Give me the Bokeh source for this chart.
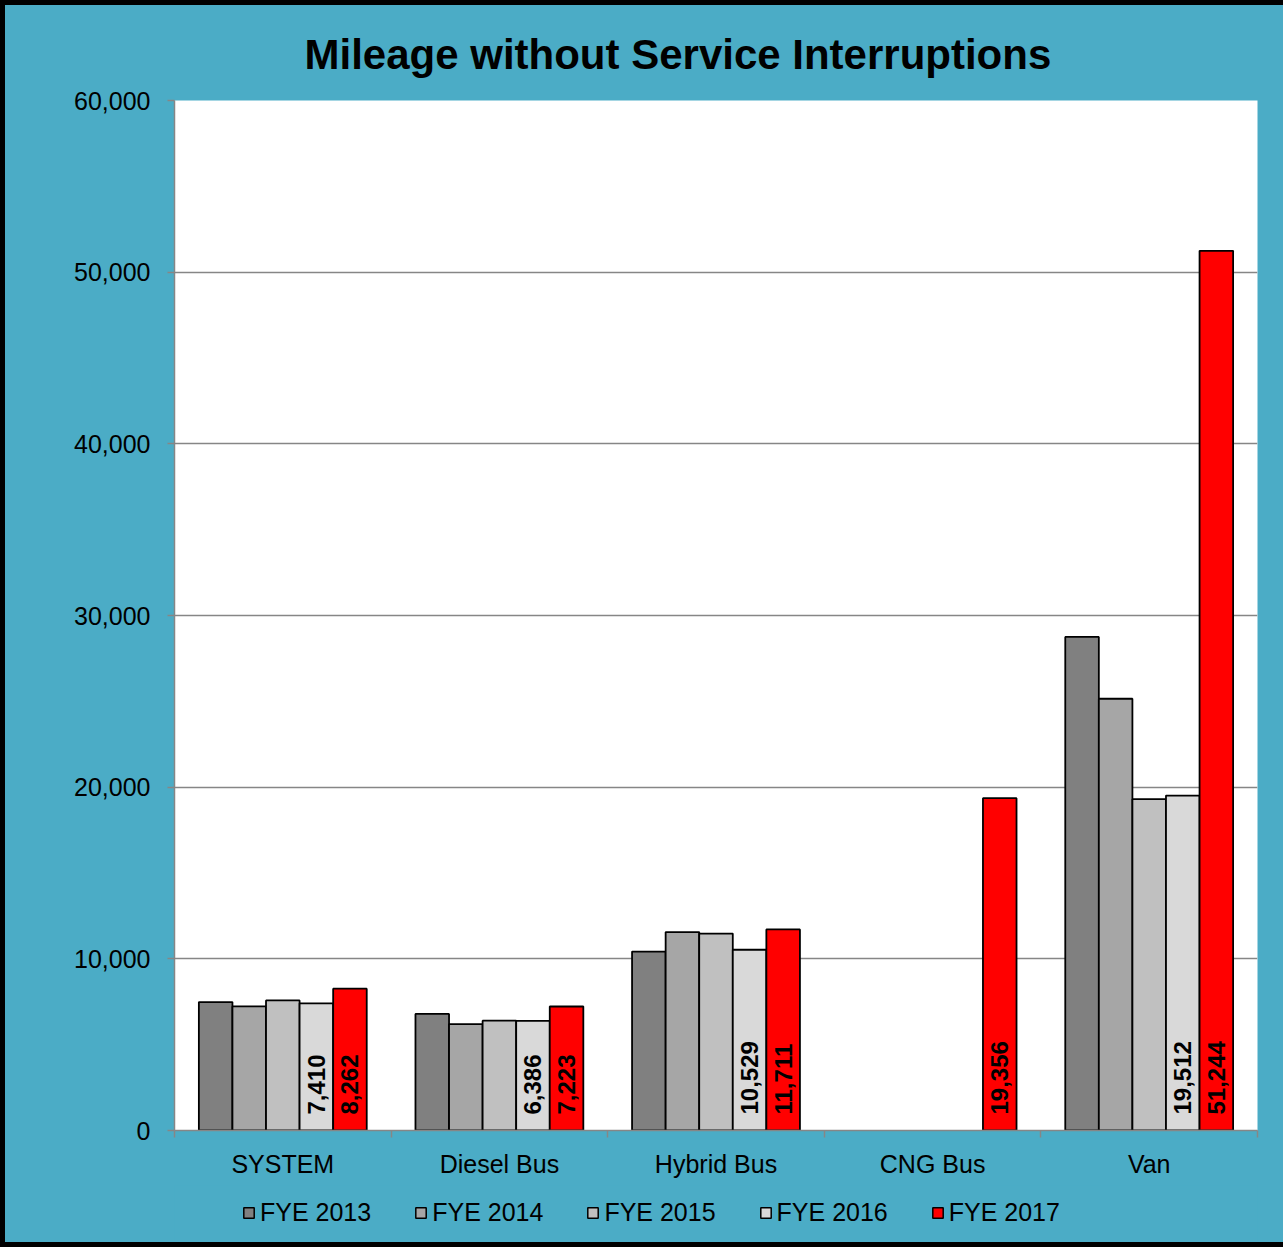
import math
from bokeh.plotting import figure
from bokeh.layouts import column
from bokeh.core.properties import value
from bokeh.models import (ColumnDataSource, FixedTicker, Legend, LegendItem, LabelSet,
                          NumeralTickFormatter, Range1d, CustomJSTickFormatter)
from bokeh.embed import file_html
from bokeh.resources import INLINE

nan = float("nan")

categories = ["SYSTEM", "Diesel Bus", "Hybrid Bus", "CNG Bus", "Van"]
series_names = ["FYE 2013", "FYE 2014", "FYE 2015", "FYE 2016", "FYE 2017"]
fye2013 = [7480, 6790, 10420, nan, 28750]
fye2014 = [7230, 6200, 11560, nan, 25150]
fye2015 = [7580, 6400, 11470, nan, 19300]
fye2016 = [7410, 6386, 10529, nan, 19512]
fye2017 = [8262, 7223, 11711, 19356, 51244]
labelled_series = ["FYE 2016", "FYE 2017"]
colors = ["#808080", "#A6A6A6", "#C0C0C0", "#D9D9D9", "#FF0000"]

series = [fye2013, fye2014, fye2015, fye2016, fye2017]
FONT = "Liberation Sans"
TEAL = "#4BACC6"
GRID = "#868686"
W = 1283
H1, H2 = 1185, 62
BORDER = "5px solid black"

p = figure(width=W, height=H1, output_backend="svg", toolbar_location=None,
           x_range=Range1d(0, len(categories)), y_range=Range1d(0, 60000),
           min_border_left=169, min_border_right=31, min_border_top=94, min_border_bottom=60,
           background_fill_color="white", border_fill_color=TEAL, outline_line_color=None)
p.styles = {"border-left": BORDER, "border-top": BORDER, "background-color": TEAL}

p.title.text = "Mileage without Service Interruptions"
p.title.align = "left"
p.title.offset = 130
p.title.text_font = FONT
p.title.text_font_size = "42px"
p.title.text_font_style = "bold"
p.title.text_color = "black"
p.title.standoff = 46

bw = 0.155
for j, (name, vals, color) in enumerate(zip(series_names, series, colors)):
    xs = [i + 0.5 + (j - 2) * bw for i in range(len(categories))]
    src = ColumnDataSource(dict(x=xs, top=vals))
    p.vbar(x="x", top="top", width=bw, source=src, fill_color=color,
           line_color="black", line_width=1.8)
    if name in labelled_series:
        lx, lt = [], []
        for x, v in zip(xs, vals):
            if not math.isnan(v):
                lx.append(x)
                lt.append(f"{int(v):,}")
        lsrc = ColumnDataSource(dict(x=lx, y=[0] * len(lx), text=lt))
        p.add_layout(LabelSet(x="x", y="y", text="text", source=lsrc, angle=math.pi / 2,
                              text_align="left", text_baseline="middle", y_offset=16,
                              text_font=value(FONT), text_font_size="24px",
                              text_font_style="bold", text_color="black"))

# y axis
yax = p.yaxis[0]
yax.ticker = FixedTicker(ticks=[0, 10000, 20000, 30000, 40000, 50000, 60000])
yax.formatter = NumeralTickFormatter(format="0,0")
yax.axis_line_color = GRID
yax.axis_line_width = 1.5
yax.major_tick_line_color = GRID
yax.major_tick_line_width = 1.5
yax.major_tick_out = 7
yax.major_tick_in = 0
yax.minor_tick_line_color = None
yax.major_label_text_font = FONT
yax.major_label_text_font_size = "25px"
yax.major_label_text_color = "black"
yax.major_label_standoff = 17

# x axis
xax = p.xaxis[0]
xax.ticker = FixedTicker(ticks=[i + 0.5 for i in range(len(categories))],
                         minor_ticks=list(range(len(categories) + 1)))
xax.formatter = CustomJSTickFormatter(args=dict(names=categories),
                                      code="return names[Math.floor(tick)] || '';")
xax.axis_line_color = GRID
xax.axis_line_width = 1.5
xax.major_tick_line_color = None
xax.minor_tick_line_color = GRID
xax.minor_tick_line_width = 1.5
xax.minor_tick_out = 7
xax.minor_tick_in = 0
xax.major_label_text_font = FONT
xax.major_label_text_font_size = "25px"
xax.major_label_text_color = "black"
xax.major_label_standoff = 12

p.xgrid.grid_line_color = None
p.ygrid.grid_line_color = GRID
p.ygrid.grid_line_width = 1.5
p.ygrid.ticker = yax.ticker

# legend strip below the chart (its frame lines up with the chart's frame)
lfig = figure(width=W, height=H2, output_backend="svg", toolbar_location=None,
              x_axis_location=None, y_axis_location=None,
              x_range=Range1d(0, 1), y_range=Range1d(0, 1),
              min_border=0, background_fill_color=TEAL, border_fill_color=TEAL,
              outline_line_color=None)
lfig.styles = {"border-left": BORDER, "border-bottom": BORDER, "background-color": TEAL}
lfig.xgrid.grid_line_color = None
lfig.ygrid.grid_line_color = None
legend_renderers = []
for name, color in zip(series_names, colors):
    src = ColumnDataSource(dict(x=[nan], top=[nan]))
    r = lfig.vbar(x="x", top="top", width=0.1, source=src, fill_color=color,
                  line_color="black", line_width=1.5)
    legend_renderers.append(r)

legend = Legend(items=[LegendItem(label=n, renderers=[r]) for n, r in zip(series_names, legend_renderers)],
                orientation="horizontal", location=(68, 20),
                background_fill_alpha=0, border_line_color=None,
                label_text_font=FONT, label_text_font_size="25px", label_text_color="black",
                glyph_width=13, glyph_height=13, label_standoff=5, spacing=43,
                margin=0, padding=6)
lfig.add_layout(legend)

layout = column(p, lfig, spacing=0, styles={"background-color": TEAL})
open("out.html", "w").write(file_html(layout, INLINE))
